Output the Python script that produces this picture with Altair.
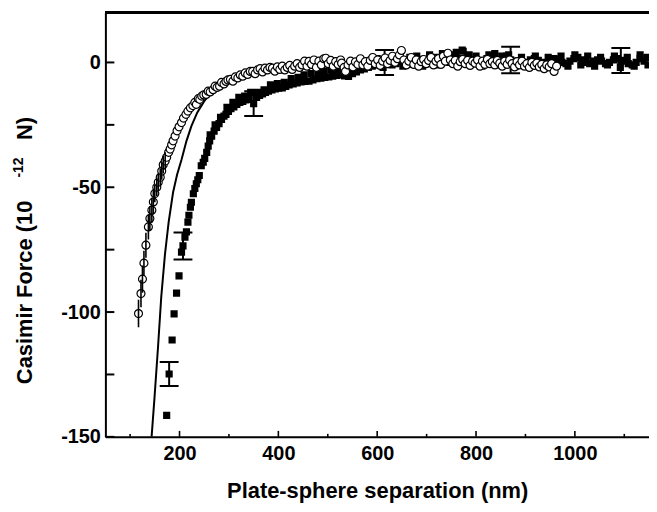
import altair as alt
import pandas as pd

# ---- data ----
sq_x = [174,179,185,189,194,199,204,207,211,214,217,219,222,224,228,231,234,237,240,244,
        248,251,255,258,261,265,270,275,280,285,290,294,299,304,310,316,322,328,334,341,
        350,356,362,368,374,380,387,394,401,408,415,422,430,438,446,454,462,470,478,486,
        494,502,510,518,526,534,542,550,558,566,574,582,590,598,606,615,622,630,638,646,
        654,662,670,678,686,694,702,710,718,726,734,742,750,758,766,774,782,790,798,806,
        814,822,830,838,846,854,862,870,878,886,894,902,910,918,926,934,942,950,958,966,
        974,982,990,998,1006,1014,1022,1030,1038,1046,1054,1062,1070,1078,1086,1093,1100,1108,1116,1124,
        1132,1140,1148,
        262,272,283,296,308,320,332,344,358,371,384,398,412,426,440,452,466,480,492,506,
        520,532,546,560,572,586,600,612,626,640,652,666,680,692,706,720,732,746,760,772,
        786,800,812,826,840,852,866,880,892,906,920,932,946,960,972,986,1000,1012,1026,1040,
        1052,1066,1080,1092,1106,1120,1132,1146]
sq_y = [-141.4,-124.8,-111.2,-100.7,-92.4,-85.5,-76,-73.5,-70,-67.9,-64,-61.2,-58,-56,-52.6,-50.5,-48.6,-47,-45.3,-41.4,
        -40,-38.4,-36,-33.5,-31.4,-29.5,-27.5,-26,-24.5,-22.8,-21.5,-20.8,-19.6,-18.5,-17.8,-16.8,-16,-15.6,-15,-14.8,
        -16.5,-14,-13.2,-12.6,-12,-11.5,-11,-10.6,-10.3,-10.2,-9.6,-9,-8.6,-8.2,-7.8,-7.6,-7.5,-7,-6.5,-6.3,
        -6,-5.8,-5.5,-5.2,-5,-5.4,-5.6,-4.5,-3.8,-3,-2.6,-2,-1.5,-1,-0.5,0,0.5,-1,-0.5,0.3,
        1,0,-0.8,0.5,1.2,0.3,-0.5,1,2,1.5,0.8,2.5,3,2,1.5,4.5,2.5,1,0,-0.5,
        0.5,1.5,2.5,3.5,1,0.5,2.5,1,0.5,-0.5,-1,0,1,1.5,0.8,0,-0.5,0.5,1.5,1,
        0,-0.5,0.5,1.5,2,1,0,-0.5,0.5,1,0.5,-0.5,0,1,1.5,0.8,0.5,-0.5,-1,0,
        1.5,0.5,-1,
        -29,-25,-22,-18,-16,-14,-13.5,-12,-12,-11,-9,-8.5,-8,-6.5,-6,-5,-4.5,-4,-3.5,-3,
        -3.5,-2.5,-2,-1.5,-1,0.5,1.5,-2,1,2,-1.5,2,2.5,-1.5,3,-1,3.5,0,4,5,
        3,2.5,-1.5,3,-1,2.5,3,-1.5,2,-1.5,2.5,-1.5,2,-1,2.5,-1.5,3,-1,2.5,-1.5,
        2,-1,2.5,-2,2,-1.5,3,2]

ci_x = [117,122,125,128,132,137,140,144,147,150,154,157,161,164,167,171,174,178,181,184,
        187,191,195,199,204,208,213,217,222,227,231,234,238,241,245,249,254,258,262,268,
        272,276,281,285,290,294,298,303,308,313,318,323,328,333,338,343,348,353,358,363,
        368,373,378,383,388,393,398,403,408,413,418,423,428,433,438,443,448,453,458,462,
        467,472,477,482,487,492,496,501,506,511,516,521,526,528,533,536,541,546,551,556,
        561,566,571,576,581,586,591,596,601,606,611,616,621,626,631,636,641,645,649,654,
        659,664,669,674,679,684,689,694,699,704,709,714,719,724,729,734,738,743,748,753,
        758,763,768,773,778,783,788,793,798,803,808,813,818,823,828,833,838,843,848,853,
        858,863,868,873,878,883,888,893,898,903,908,913,918,923,928,933,938,943,948,953,
        958,963]
ci_y = [-100.6,-92.6,-86.8,-80.4,-73.2,-65.9,-62.5,-59.2,-55.9,-52.5,-50,-48,-46,-43.5,-41,-39.5,-38,-36,-34.7,-33,
        -31.4,-29.5,-27.4,-25.8,-24.1,-22.3,-20.8,-19.5,-18.2,-17.3,-16,-16.8,-14.5,-14.8,-13.5,-13,-12.8,-11.5,-11.8,-10.9,
        -9.5,-10,-9.5,-8,-8.6,-7.6,-7,-6.8,-7.5,-5.8,-6.2,-5,-5.5,-4.2,-4.8,-3.6,-3.6,-4.5,-3,-2.5,
        -3.8,-2.3,-3,-2,-2.3,-3.5,-1.8,-2.8,-1.5,-3,-2,-1.2,-2.8,-1.5,-0.5,-2,-1,0.5,-1.5,0.4,
        -0.8,1,-2,0.5,-1,1.5,1.7,-0.5,0.8,-1.5,0.3,-0.8,1,-0.3,-2,-3.6,-1,0.5,-1.8,0.2,
        -0.8,1.5,-1,0.3,-1.5,0.8,2,-0.5,1,-1.2,0.5,1.8,-0.5,0.8,2.5,0,1.5,3,4.8,1,
        -1,0.5,2,-0.8,1,-1.5,0.3,1.2,-0.5,0.8,2,-1,0.5,1.5,-0.8,2.5,0.5,3.7,1,-0.5,
        0.8,-1.5,0.3,1.2,-0.5,0.8,-1.2,0.5,-0.3,1,-1.5,0.5,-0.8,1.2,-0.5,0.3,-1,0.8,-0.3,-1.5,
        0.5,-0.8,1,-0.5,-1.8,0.3,-1,0.5,-1.5,-0.5,-2,0,-1.2,-0.3,-1.8,-0.8,-2.5,-1,-1.8,-0.5,
        -3.6,-1.5]

# error bars on the circle series (first points only)
ci_err_x = [117,122,125,128,132,137,140,144,147,150,154,157,161,164,167,171]
ci_err_y = [-100.6,-92.6,-86.8,-80.4,-73.2,-65.9,-62.5,-59.2,-55.9,-52.5,-50,-48,-46,-43.5,-41,-39.5]
ci_err_e = [5.5,5.5,5.5,5,5,5,5,5,5,3.5,3.5,3.5,3.5,3.5,3.5,3.5]

# error bars on the square series
sq_err_x = [179,207,350,615,870,1093]
sq_err_y = [-124.8,-73.5,-16.5,0,1,0.8]
sq_err_e = [4.8,5.4,5,5,5.3,5]

# theory curve
th_x = [143.5,149.5,156.5,163,170.5,178,187,195,204,214,224,236,250,265,280,300,325,350,380,420,470,530,600]
th_y = [-150,-134,-114,-94,-77,-64,-52,-45,-39,-31.5,-25.5,-20,-15.5,-12,-9.5,-7,-5,-3.7,-2.7,-1.8,-1.2,-0.8,-0.5]

x_ticks_major = [200, 400, 600, 800, 1000]
x_ticks_minor = [100, 300, 500, 700, 900, 1100]
y_labels = [-150, -100, -50, 0]
y_ticks = [-150, -125, -100, -75, -50, -25, 0]

XDOM = [50, 1150]
YDOM = [-150, 20]
W, H = 547, 427

sq = pd.DataFrame({"x": sq_x, "y": sq_y})
ci = pd.DataFrame({"x": ci_x, "y": ci_y})
th = pd.DataFrame({"x": th_x, "y": th_y})
ce = pd.DataFrame({"x": ci_err_x, "y": ci_err_y, "e": ci_err_e})
ce["lo"] = ce["y"] - ce["e"]
ce["hi"] = ce["y"] + ce["e"]
se = pd.DataFrame({"x": sq_err_x, "y": sq_err_y, "e": sq_err_e})
se["lo"] = se["y"] - se["e"]
se["hi"] = se["y"] + se["e"]

# inward tick segments, lengths expressed in data units of the axes
ky = (YDOM[1] - YDOM[0]) / H      # data units per pixel, y
kx = (XDOM[1] - XDOM[0]) / W      # data units per pixel, x
xmaj = pd.DataFrame({"x": x_ticks_major, "y0": YDOM[0], "y1": YDOM[0] + 6 * ky})
xmin = pd.DataFrame({"x": x_ticks_minor, "y0": YDOM[0], "y1": YDOM[0] + 3 * ky})
yt = pd.DataFrame({"y": y_ticks, "x0": XDOM[0], "x1": XDOM[0] + 9 * kx})
sup = pd.DataFrame({"t": ["-12"]})

LF = "Liberation Sans"
NB = "\u00a0"

xaxis = alt.Axis(orient="bottom", ticks=False, values=x_ticks_major, grid=False,
                 domain=True, domainColor="black", domainWidth=2,
                 labelFont=LF, labelFontSize=20, labelFontWeight="bold", labelColor="black",
                 labelPadding=7, labelExpr="datum.value + ''",
                 title="Plate-sphere separation (nm)",
                 titleFont=LF, titleFontSize=22, titleFontWeight="bold", titleColor="black",
                 titlePadding=17)
yaxis = alt.Axis(orient="left", ticks=False, values=y_labels, grid=False,
                 domain=True, domainColor="black", domainWidth=2,
                 labelFont=LF, labelFontSize=20, labelFontWeight="bold", labelColor="black",
                 labelPadding=5, labelExpr="datum.value + ''",
                 title="Casimir Force (10" + NB * 10 + "N)",
                 titleFont=LF, titleFontSize=22, titleFontWeight="bold", titleColor="black",
                 titlePadding=24, titleY=239)

def X(field="x"):
    return alt.X(f"{field}:Q", scale=alt.Scale(domain=XDOM, nice=False, zero=False), axis=xaxis)

def Y(field="y"):
    return alt.Y(f"{field}:Q", scale=alt.Scale(domain=YDOM, nice=False, zero=False), axis=yaxis)

line = alt.Chart(th).mark_line(color="black", strokeWidth=2, clip=True).encode(x=X(), y=Y(), order="x:Q")
squares = alt.Chart(sq).mark_point(shape="square", filled=True, color="black", size=52, opacity=1, clip=True).encode(x=X(), y=Y())
sq_rule = alt.Chart(se).mark_rule(color="black", strokeWidth=2, clip=True).encode(x=X(), y=Y("lo"), y2="hi:Q")
sq_cap_lo = alt.Chart(se).mark_tick(orient="horizontal", size=19, thickness=2, color="black", opacity=1, clip=True).encode(x=X(), y=Y("lo"))
sq_cap_hi = alt.Chart(se).mark_tick(orient="horizontal", size=19, thickness=2, color="black", opacity=1, clip=True).encode(x=X(), y=Y("hi"))
circles = alt.Chart(ci).mark_point(shape="circle", filled=True, fill="white", stroke="black", strokeWidth=1.2,
                                   size=64, opacity=1, fillOpacity=1, clip=True).encode(x=X(), y=Y())
ci_rule = alt.Chart(ce).mark_rule(color="black", strokeWidth=1.6, clip=True).encode(x=X(), y=Y("lo"), y2="hi:Q")
top = alt.Chart(th).mark_rule(color="black", strokeWidth=2).encode(y=alt.datum(20))

tick_xmaj = alt.Chart(xmaj).mark_rule(color="black", strokeWidth=1.6, opacity=1).encode(
    x=X(), y=Y("y0"), y2="y1:Q")
tick_xmin = alt.Chart(xmin).mark_rule(color="black", strokeWidth=1.6, opacity=1).encode(
    x=X(), y=Y("y0"), y2="y1:Q")
tick_y = alt.Chart(yt).mark_rule(color="black", strokeWidth=2, opacity=1).encode(
    y=Y(), x=X("x0"), x2="x1:Q")

# raised exponent of the y title
sup_text = alt.Chart(sup).mark_text(angle=270, font=LF, fontSize=14, fontWeight="bold", color="black",
                                    align="center", baseline="middle").encode(
    text="t:N", x=alt.value(-87), y=alt.value(156))

chart = alt.layer(line, squares, sq_rule, sq_cap_lo, sq_cap_hi, circles, ci_rule, top,
                  tick_xmaj, tick_xmin, tick_y, sup_text).properties(
    width=W, height=H,
    autosize=alt.AutoSizeParams(type="none"),
    padding={"left": 98, "top": 3, "right": 0, "bottom": 66},
    background="white",
).configure_view(strokeWidth=0)

chart.save("out.html", embed_options={"renderer": "svg", "actions": False})
